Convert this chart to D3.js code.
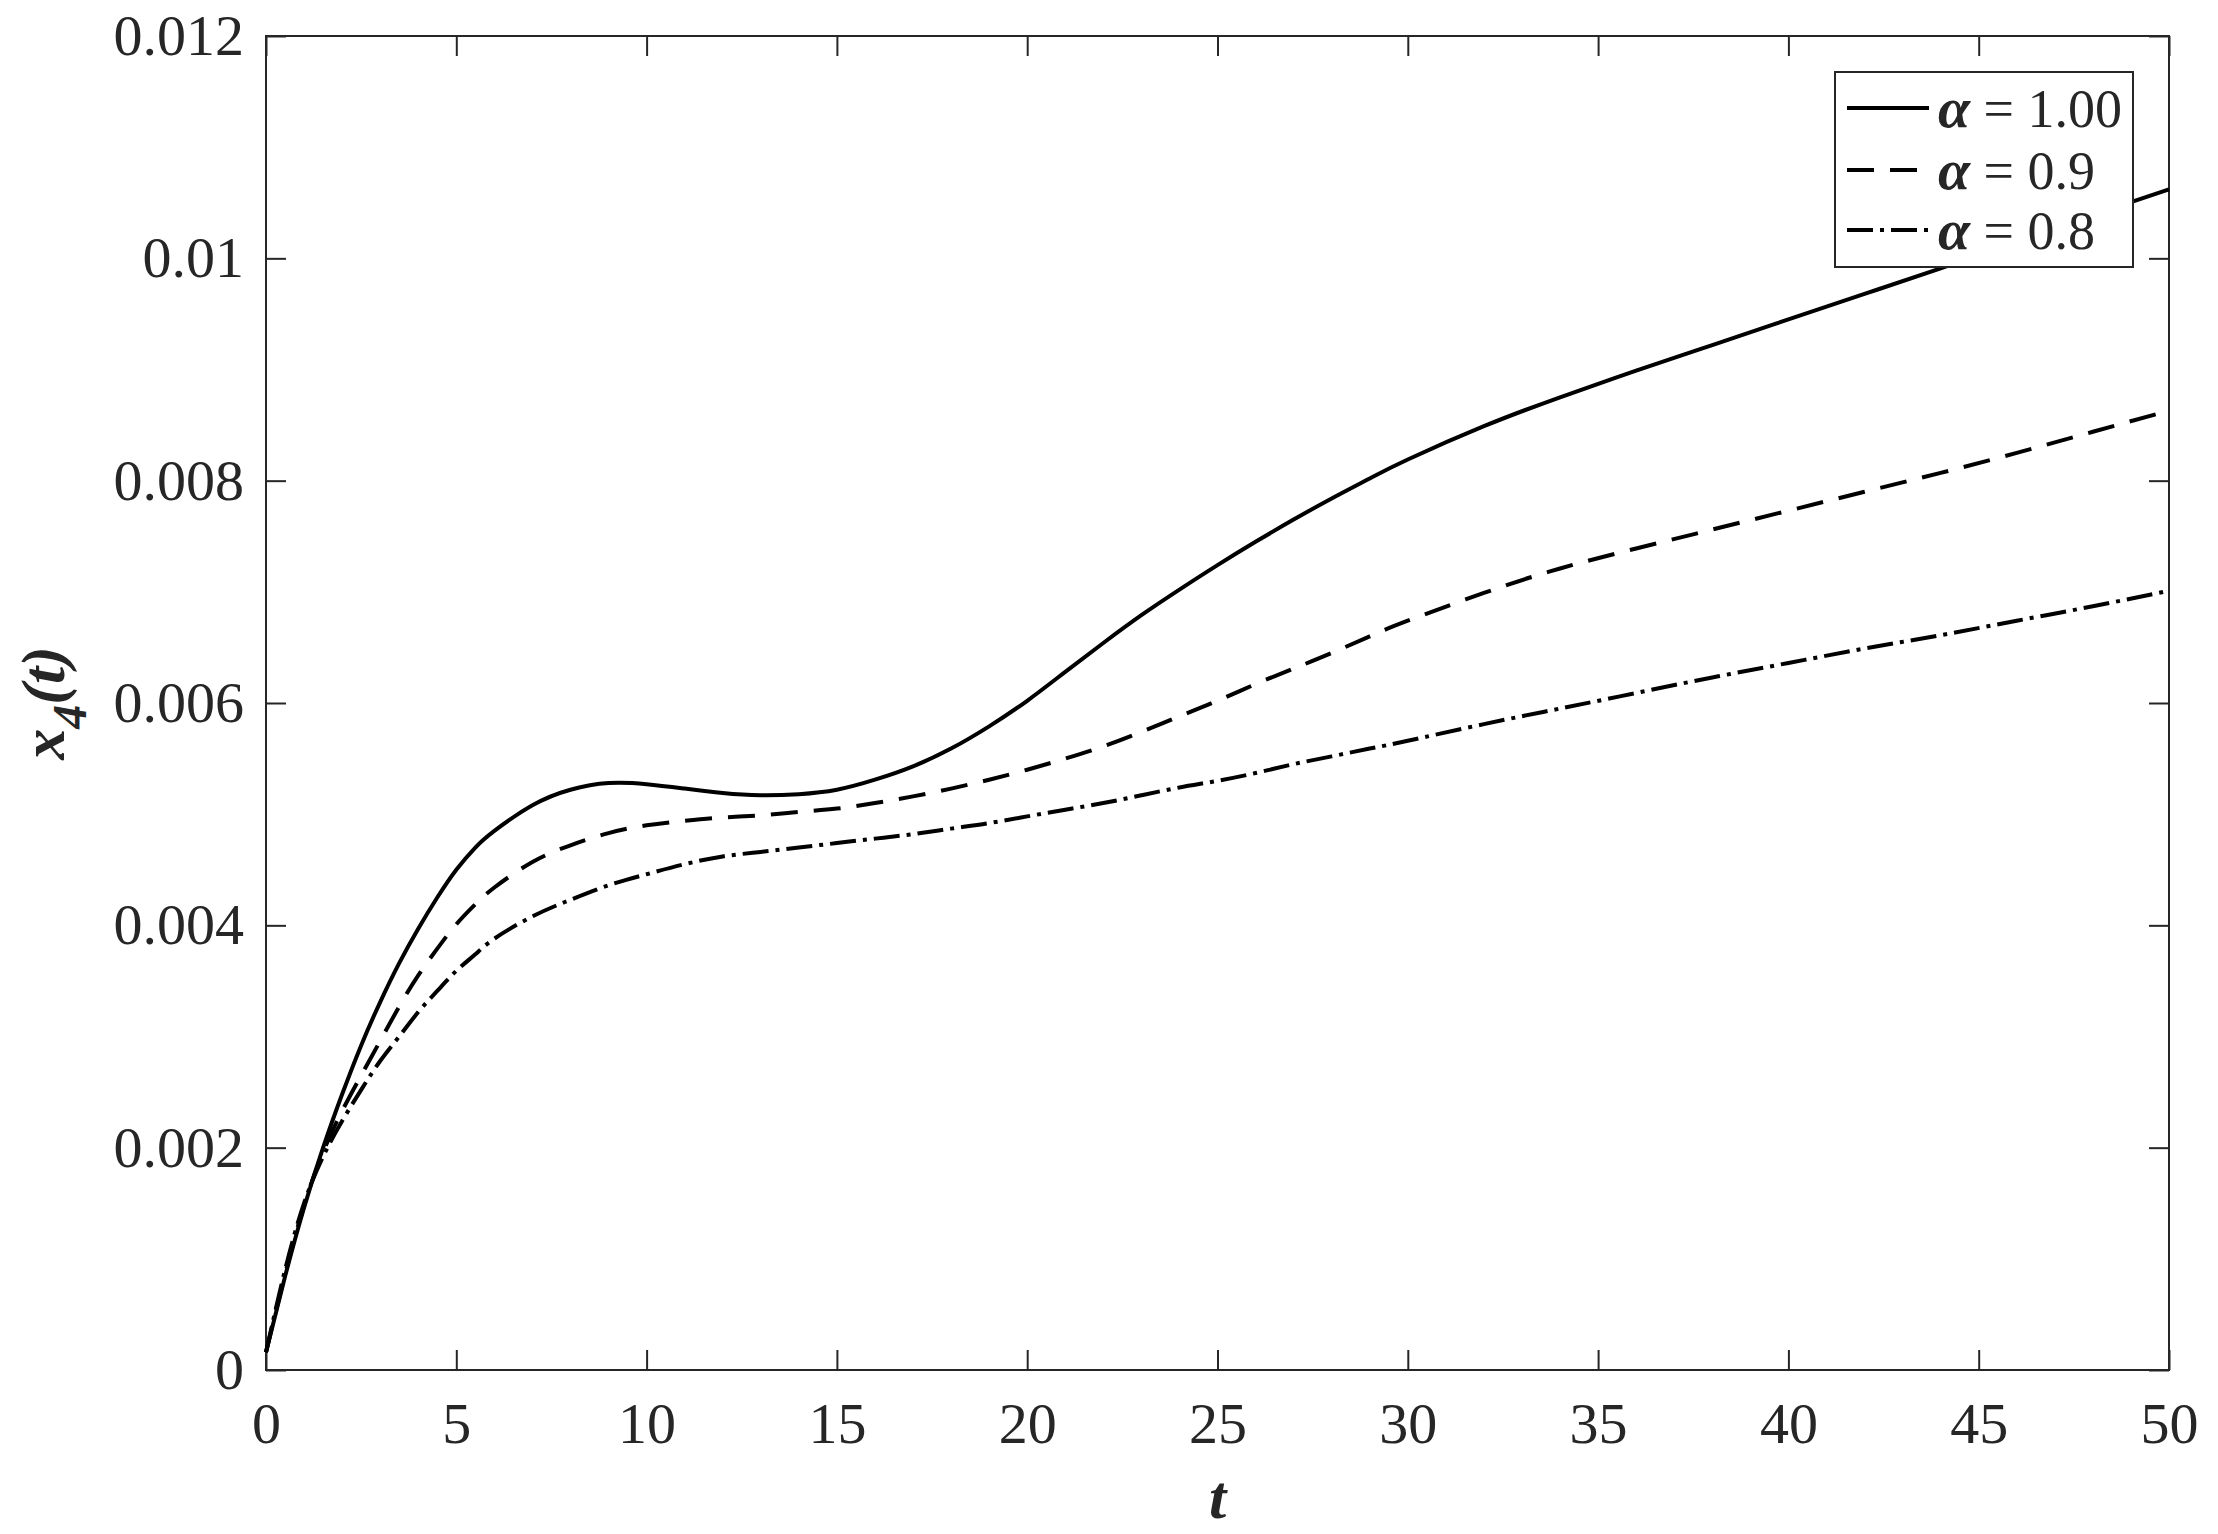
<!DOCTYPE html>
<html>
<head>
<meta charset="utf-8">
<script src="https://cdn.jsdelivr.net/npm/d3@7"></script>
<style>
  body { margin: 0; background: #fff; }
  svg { display: block; }
  text { font-family: "Liberation Serif", "Times New Roman", serif; fill: #262626; }
</style>
</head>
<body>
<svg width="2218" height="1534"></svg>
<script>
// time grid and the three curves (values in units of 1e-3)
const t = [0, 0.5, 1, 1.5, 2, 2.5, 3, 3.5, 4, 4.5, 5, 5.5, 6,
  7, 8, 9, 10, 11, 12, 13, 14, 15, 16, 17, 18, 19, 20, 21, 22, 23, 24, 25, 26, 27, 28, 29, 30,
  32, 34, 36, 38, 40, 42, 44, 46, 48, 50]

const alpha100 = [0.16, 0.84, 1.46, 2.00, 2.48, 2.92, 3.31, 3.66, 3.97, 4.25, 4.50, 4.70, 4.85,
  5.08, 5.22, 5.28, 5.27, 5.23, 5.19, 5.17, 5.18, 5.22, 5.31, 5.43, 5.59, 5.79, 6.02, 6.28, 6.54, 6.79, 7.02, 7.24, 7.45, 7.65, 7.84, 8.02, 8.19,
  8.49, 8.75, 8.99, 9.22, 9.45, 9.68, 9.91, 10.15, 10.39, 10.62]

const alpha090 = [0.16, 0.86, 1.48, 1.96, 2.33, 2.65, 2.96, 3.27, 3.55, 3.79, 4.01, 4.19, 4.34,
  4.57, 4.72, 4.83, 4.90, 4.94, 4.97, 4.99, 5.02, 5.05, 5.10, 5.16, 5.23, 5.31, 5.40, 5.50, 5.61, 5.74, 5.88, 6.02, 6.17, 6.31, 6.45, 6.60, 6.74,
  6.99, 7.21, 7.39, 7.56, 7.73, 7.90, 8.07, 8.25, 8.44, 8.63]

const alpha080 = [0.16, 0.90, 1.50, 1.92, 2.24, 2.52, 2.78, 3.00, 3.22, 3.41, 3.59, 3.74, 3.88,
  4.08, 4.23, 4.36, 4.46, 4.55, 4.62, 4.66, 4.70, 4.74, 4.78, 4.82, 4.87, 4.92, 4.98, 5.04, 5.10, 5.17, 5.24, 5.30, 5.37, 5.45, 5.52, 5.59, 5.66,
  5.81, 5.95, 6.09, 6.23, 6.36, 6.49, 6.61, 6.74, 6.87, 7.01]

const xTicks = [0, 5, 10, 15, 20, 25, 30, 35, 40, 45, 50]
const yTicks = [0, 0.002, 0.004, 0.006, 0.008, 0.01, 0.012]
const legendLabels = ["1.00", "0.9", "0.8"]

const plotLeft = 266, plotRight = 2169, plotTop = 36, plotBottom = 1370
const width = plotRight - plotLeft
const height = plotBottom - plotTop
const ink = "#262626"

const svg = d3.select('svg')
const chart = svg.append('g')
  .attr('transform', `translate(${plotLeft}, ${plotTop})`)

const xScale = d3.scaleLinear().domain([0, 50]).range([0, width])
const yScale = d3.scaleLinear().domain([0, 0.012]).range([height, 0])

const fmt = d => String(+d.toFixed(3))

// axes, ticks pointing inward on all four sides
const styleAxis = g => {
  g.select('.domain').remove()
  g.selectAll('line').attr('stroke', ink).attr('stroke-width', 2)
  g.selectAll('text').style('fill', ink)
  g.attr('font-size', 58).attr('font-family', '"Liberation Serif", "Times New Roman", serif')
}

chart.append('g')
  .attr('transform', `translate(0, ${height})`)
  .call(d3.axisBottom(xScale).tickValues(xTicks).tickFormat(d3.format('d')).tickSize(-20).tickPadding(32))
  .call(styleAxis)

chart.append('g')
  .call(d3.axisTop(xScale).tickValues(xTicks).tickFormat('').tickSize(-20))
  .call(styleAxis)

chart.append('g')
  .call(d3.axisLeft(yScale).tickValues(yTicks).tickFormat(fmt).tickSize(-20).tickPadding(22))
  .call(styleAxis)

chart.append('g')
  .attr('transform', `translate(${width}, 0)`)
  .call(d3.axisRight(yScale).tickValues(yTicks).tickFormat('').tickSize(-20))
  .call(styleAxis)

chart.append('rect')
  .attr('width', width).attr('height', height)
  .attr('fill', 'none').attr('stroke', ink).attr('stroke-width', 2)

// curves
const series = [
  { values: alpha100, dash: null },
  { values: alpha090, dash: '27,16' },
  { values: alpha080, dash: '26,7,4,7' }
]

const line = d3.line()
  .x(d => xScale(d[0]))
  .y(d => yScale(d[1] / 1000))
  .curve(d3.curveNatural)

chart.selectAll('.curve')
  .data(series)
  .enter()
  .append('path')
  .attr('class', 'curve')
  .attr('d', s => line(t.map((v, i) => [v, s.values[i]])))
  .attr('fill', 'none')
  .attr('stroke', '#000')
  .attr('stroke-width', 4)
  .attr('stroke-dasharray', s => s.dash)

// legend
const legend = svg.append('g').attr('transform', 'translate(1835, 72)')
legend.append('rect')
  .attr('width', 298).attr('height', 195)
  .attr('fill', '#fff').attr('stroke', ink).attr('stroke-width', 2)

const rows = [36, 98, 158]
series.forEach((s, i) => {
  legend.append('line')
    .attr('x1', 12).attr('x2', 94)
    .attr('y1', rows[i]).attr('y2', rows[i])
    .attr('stroke', '#000').attr('stroke-width', 4)
    .attr('stroke-dasharray', s.dash)
  const txt = legend.append('text')
    .attr('x', 103).attr('y', rows[i] + 19)
    .attr('font-size', 54)
  txt.append('tspan').attr('font-weight', 'bold').attr('font-style', 'italic').attr('font-size', 58).text('α')
  txt.append('tspan').text(' = ' + legendLabels[i])
})

// axis labels
svg.append('text')
  .attr('x', (plotLeft + plotRight) / 2)
  .attr('y', 1518)
  .attr('text-anchor', 'middle')
  .attr('font-size', 62)
  .attr('font-weight', 'bold')
  .attr('font-style', 'italic')
  .text('t')

const yLabel = svg.append('text')
  .attr('transform', `translate(64, ${(plotTop + plotBottom) / 2}) rotate(-90)`)
  .attr('text-anchor', 'middle')
  .attr('font-size', 62)
  .attr('font-weight', 'bold')
  .attr('font-style', 'italic')
yLabel.append('tspan').text('x')
yLabel.append('tspan').attr('font-size', 48).attr('dy', 22).text('4')
yLabel.append('tspan').attr('dy', -22).text('(t)')
</script>
</body>
</html>
